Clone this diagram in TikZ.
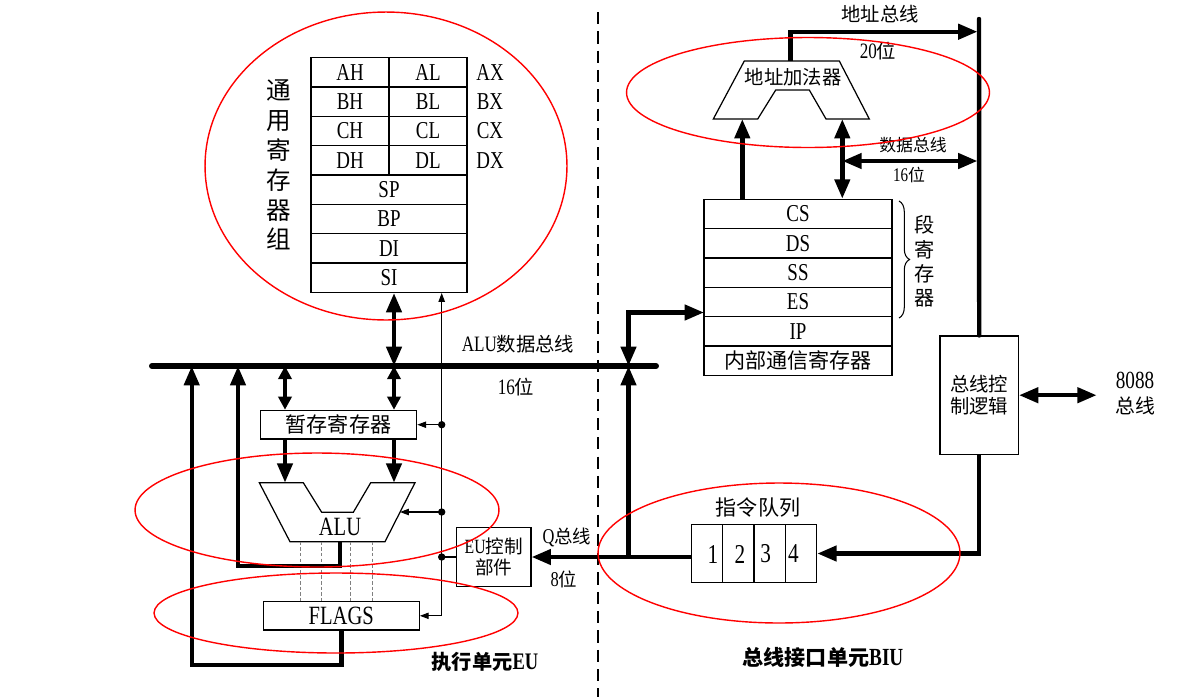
\documentclass[tikz,border=0pt]{standalone}
\usepackage{fontspec}
\setmainfont{Liberation Serif}[FakeStretch=0.78]
\newfontfamily\cjk{Noto Sans CJK SC}
\newcommand\zh[1]{{\cjk #1}}
\newcommand\fs[1]{\fontsize{#1pt}{#1pt}\selectfont}
\newcommand\fss[2]{\fontsize{#1pt}{#2pt}\selectfont}
\usetikzlibrary{arrows.meta,decorations.pathreplacing}
\tikzset{
  cell/.style={draw, line width=0.7pt, inner sep=0pt, minimum width=1.56cm, minimum height=0.5867cm, font=\fs{13.8}},
  wcell/.style={cell, minimum width=3.12cm},
  scell/.style={cell, minimum width=3.76cm},
  qcell/.style={draw, line width=0.7pt, inner sep=0pt, minimum width=0.625cm, minimum height=1.168cm},
  plainbox/.style={draw, line width=0.7pt, inner sep=0pt},
  lab/.style={inner sep=0pt},
  heavy/.style={line width=2.5pt},
  bigarrow/.style={heavy, -{Triangle[length=11pt,width=8.5pt]}},
  bigdbl/.style={heavy, {Triangle[length=11pt,width=8.5pt]}-{Triangle[length=11pt,width=8.5pt]}},
  meddbl/.style={heavy, {Triangle[length=7.5pt,width=7.5pt]}-{Triangle[length=7.5pt,width=7.5pt]}},
  ctrl/.style={line width=0.6pt},
  ctrlarrow/.style={ctrl, -{Triangle[length=5pt,width=3.6pt]}},
  ctrldbl/.style={ctrl, {Triangle[length=5pt,width=3.6pt]}-{Triangle[length=5pt,width=3.6pt]}},
  ctrldot/.style={circle, fill, inner sep=0pt, minimum size=4.2pt},
  hl/.style={red, line width=0.8pt},
  flagline/.style={gray, line width=0.5pt, dash pattern=on 2pt off 1.2pt},
}
\begin{document}
\begin{tikzpicture}[x=0.02cm, y=-0.02cm]
\fill[white] (0,0) rectangle (1182,697);
\useasboundingbox (0,0) rectangle (1182,697);

% ---------------- general registers ----------------
\node[cell] (AH) at (350,72.3) {AH};
\node[cell] (AL) at (428,72.3) {AL};
\node[cell] (BH) at (350,101.7) {BH};
\node[cell] (BL) at (428,101.7) {BL};
\node[cell] (CH) at (350,131) {CH};
\node[cell] (CL) at (428,131) {CL};
\node[cell] (DH) at (350,160.3) {DH};
\node[cell] (DL) at (428,160.3) {DL};
\node[wcell] (SP) at (389,189.7) {SP};
\node[wcell] (BP) at (389,219) {BP};
\node[wcell] (DI) at (389,248.3) {DI};
\node[wcell] (SI) at (389,277.7) {SI};
\node[lab, font=\fs{13.8}] (AX) at (490,72.3) {AX};
\node[lab, font=\fs{13.8}] (BX) at (490,101.7) {BX};
\node[lab, font=\fs{13.8}] (CX) at (490,131) {CX};
\node[lab, font=\fs{13.8}] (DX) at (490,160.3) {DX};
\node[lab, align=center, font=\cjk\fss{14}{17}] (gen) at (279,165) {通\\用\\寄\\存\\器\\组};

% ---------------- ALU data bus ----------------
\coordinate (busL) at (152,366);
\coordinate (busR) at (656,366);
\coordinate (bA) at (191.7,366);
\coordinate (bB) at (238,366);
\coordinate (bC) at (285,366);
\coordinate (bD) at (394,366);
\coordinate (bE) at (628.5,366);
\draw[line width=3.4pt, line cap=round] (busL) -- (busR);
\node[lab, font=\fs{12.5}] (busname) at (518,344) {ALU{\fs{11}\zh{数据总线}}};
\node[lab, font=\fs{12.5}] (buswidth) at (516,387) {16{\fs{11}\zh{位}}};

% ---------------- temp register, ALU, FLAGS ----------------
\node[plainbox, minimum width=3.128cm, minimum height=0.574cm, font=\cjk\fs{12}] (tmp) at (338.5,424.7) {暂存寄存器};
\draw[line width=0.7pt] (259.3,482.7) -- (303.3,482.7) -- (321.7,512.3) -- (353.3,512.3) -- (370.7,482.7) -- (415,482.7) -- (385,541.7) -- (290,541.7) -- cycle;
\node[lab, font=\fs{15}] (alu) at (340,527) {ALU};
\coordinate (aluInL) at (285,482.7);
\coordinate (aluInR) at (394,482.7);
\coordinate (aluOut) at (340,541.7);
\coordinate (aluR) at (400,512);
\node[plainbox, minimum width=3.12cm, minimum height=0.566cm, font=\fs{15}] (flags) at (341.3,615.8) {FLAGS};
\foreach \xx in {300.7,321,350,372.7} \draw[flagline] (\xx,541.7) -- (\xx,601.7);

\draw[bigdbl] (SI.south -| bD) -- (bD);
\draw[meddbl] (bC) -- (tmp.north -| bC);
\draw[meddbl] (bD) -- (tmp.north -| bD);
\draw[bigarrow] (tmp.south -| aluInL) -- (aluInL);
\draw[bigarrow] (tmp.south -| aluInR) -- (aluInR);
\draw[bigarrow] (aluOut) -- ++(0,24.3) -| (bB);
\draw[bigarrow] (flags.south) -- ++(0,34.5) -| (bA);

% ---------------- EU control ----------------
\node[plainbox, minimum width=1.486cm, minimum height=1.188cm, align=center, font=\fss{11.5}{12.3}] (eu) at (493.8,557) {EU{\fs{10.6}\zh{控制}}\\{\fs{10.6}\zh{部件}}};
\coordinate (cx) at (441.7,615.8);
\draw[ctrldbl] (flags.east) -- (cx) -- (cx |- SI.south);
\draw[ctrlarrow] (cx |- tmp.east) -- (tmp.east);
\draw[ctrlarrow] (cx |- aluR) -- (aluR);
\draw[ctrl] (eu.west) -- (cx |- eu.west);
\node[ctrldot] (d1) at (cx |- tmp.east) {};
\node[ctrldot] (d2) at (cx |- aluR) {};
\node[ctrldot] (d3) at (cx |- eu.west) {};

% ---------------- divider ----------------
\draw[line width=0.7pt, dash pattern=on 7pt off 4pt] (598,12) -- (598,697);

% ---------------- segment registers ----------------
\node[scell] (CS) at (798,214) {CS};
\node[scell] (DS) at (798,243.3) {DS};
\node[scell] (SS) at (798,272.7) {SS};
\node[scell] (ES) at (798,302) {ES};
\node[scell] (IP) at (798,331.3) {IP};
\node[scell, font=\cjk\fs{12}] (comm) at (798,360.7) {内部通信寄存器};
\draw[line width=0.6pt, decorate, decoration={brace, amplitude=6pt}] (899,201) -- (899,318);
\node[lab, align=center, font=\cjk\fss{11.5}{13.9}] (seglab) at (925,261.5) {段\\寄\\存\\器};

% ---------------- address adder ----------------
\draw[line width=0.7pt] (744.3,61) -- (839.3,61) -- (869.3,119) -- (826,119) -- (809.3,90) -- (775.7,90) -- (757.7,119) -- (713.3,119) -- cycle;
\node[lab, font=\cjk\fs{11}] (adder) at (793,77.3) {地址加法器};
\coordinate (addT) at (790.3,61);
\coordinate (addL) at (742.3,119);
\coordinate (addR) at (842.3,119);
\coordinate (dbj) at (842.3,161);
\coordinate (dbR) at (977.5,161);
\coordinate (abus) at (977.5,31.7);
\coordinate (rbTop) at (979,19);
\draw[bigarrow] (CS.north -| addL) -- (addL);
\draw[bigdbl] (CS.north -| addR) -- (addR);
\draw[bigdbl] (dbj) -- (dbR);
\draw[bigarrow] (addT) |- (abus);
\node[lab, font=\cjk\fs{11}] (abname) at (880,14) {地址总线};
\node[lab, font=\fs{12.5}] (abwidth) at (878,50.7) {20{\fs{11}\zh{位}}};
\node[lab, font=\cjk\fs{9.6}] (dbname) at (913,145) {数据总线};
\node[lab, font=\fs{11}] (dbwidth) at (909,175) {16{\fs{9.6}\zh{位}}};

% ---------------- bus control logic ----------------
\node[plainbox, minimum width=1.566cm, minimum height=2.366cm, align=center, font=\cjk\fss{11}{12.9}] (bcl) at (979.2,395.2) {总线控\\制逻辑};
\draw[heavy, line cap=round] (rbTop) -- (bcl.north);
\coordinate (ext) at (1096.7,395.2);
\draw[bigdbl] (bcl.east) -- (ext);
\node[lab, align=center, font=\fss{14}{14.2}] (ext8088) at (1135,394) {8088\\{\fs{11.3}\zh{总线}}};

% ---------------- instruction queue ----------------
\node[qcell] (q1) at (707.2,553.5) {};
\node[qcell] (q2) at (738.4,553.5) {};
\node[qcell] (q3) at (769.6,553.5) {};
\node[qcell] (q4) at (801,553.5) {};
\node[lab, font=\fs{15.5}] (n1) at (713,554) {1};
\node[lab, font=\fs{15.5}] (n2) at (740,554) {2};
\node[lab, font=\fs{15.5}] (n3) at (765.7,554) {3};
\node[lab, font=\fs{15.5}] (n4) at (793.3,554) {4};
\node[lab, font=\cjk\fs{12}] (qname) at (758,507.3) {指令队列};
\draw[bigarrow] (bcl.south) |- (q4.east);

% ---------------- Q bus ----------------
\coordinate (qj) at (628.5,557);
\coordinate (segin) at (704,312.5);
\draw[bigarrow] (q1.west |- eu.east) -- (eu.east);
\draw[bigarrow] (qj) -- (bE);
\draw[bigdbl] (bE) |- (segin);
\node[lab, font=\fs{12}] (qbus) at (567,537) {Q{\fs{10.5}\zh{总线}}};
\node[lab, font=\fs{12}] (qwidth) at (564,579) {8{\fs{10.5}\zh{位}}};

% ---------------- unit titles ----------------
\node[lab, font=\fs{13.5}\bfseries] (eutitle) at (485,661.7) {{\fs{11.5}\zh{执行单元}}EU};
\node[lab, font=\fs{14}\bfseries] (biutitle) at (823,657) {{\fs{12}\zh{总线接口单元}}BIU};

% ---------------- red highlights ----------------
\draw[hl] (386,166) ellipse [x radius=3.62cm, y radius=3.08cm];
\draw[hl] (317,510) ellipse [x radius=3.64cm, y radius=1.14cm];
\draw[hl] (336,613) ellipse [x radius=3.64cm, y radius=0.8cm];
\draw[hl] (779,553) ellipse [x radius=3.62cm, y radius=1.4cm];
\draw[hl] (808,92.5) ellipse [x radius=3.63cm, y radius=1.1cm];
\end{tikzpicture}
\end{document}
